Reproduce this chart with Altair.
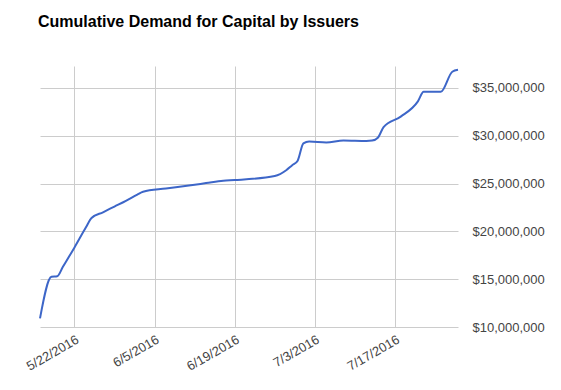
import altair as alt
import pandas as pd

dates = ["2016/05/16", "2016/05/18", "2016/05/19", "2016/05/20", "2016/05/22",
         "2016/05/24", "2016/05/25", "2016/05/27", "2016/05/29", "2016/05/31",
         "2016/06/02", "2016/06/03", "2016/06/07", "2016/06/11", "2016/06/14",
         "2016/06/17", "2016/06/19", "2016/06/26", "2016/06/28", "2016/06/29",
         "2016/06/30", "2016/07/01", "2016/07/02", "2016/07/05", "2016/07/08",
         "2016/07/12", "2016/07/13", "2016/07/14", "2016/07/15", "2016/07/18",
         "2016/07/21", "2016/07/22", "2016/07/25", "2016/07/27", "2016/07/28"]
values = [10.9, 15.25, 15.3, 16.3, 18.3,
          20.4, 21.4, 22.0, 22.6, 23.2,
          23.85, 24.15, 24.48, 24.8, 25.05,
          25.3, 25.37, 25.8, 26.4, 26.9,
          27.4, 29.2, 29.4, 29.3, 29.5,
          29.45, 29.5, 29.8, 30.9, 32.0,
          33.6, 34.6, 34.6, 36.7, 36.9]
tick_dates = [(2016, 5, 22), (2016, 6, 5), (2016, 6, 19), (2016, 7, 3), (2016, 7, 17)]
y_ticks = [10e6, 15e6, 20e6, 25e6, 30e6, 35e6]

df = pd.DataFrame({"date": [d + " 00:00" for d in dates],
                   "value": [v * 1e6 for v in values]})

font = "Liberation Sans"

chart = alt.Chart(df).mark_line(
    color="#3d66c8", strokeWidth=2, interpolate="monotone"
).encode(
    x=alt.X("date:T",
            scale=alt.Scale(domain=[alt.DateTime(year=2016, month=5, date=16),
                                    alt.DateTime(year=2016, month=7, date=28)],
                            nice=False),
            axis=alt.Axis(title=None, format="%-m/%-d/%Y",
                          values=[alt.DateTime(year=y, month=m, date=d) for y, m, d in tick_dates],
                          labelAngle=-30, labelAlign="right", labelBaseline="top",
                          labelPadding=6, ticks=False, domain=False,
                          grid=True, gridColor="#cccccc",
                          labelFont=font, labelFontSize=13, labelColor="#444444")),
    y=alt.Y("value:Q",
            scale=alt.Scale(domain=[10e6, 37.3e6], nice=False, zero=False),
            axis=alt.Axis(title=None, orient="right", format="$,.0f", values=y_ticks,
                          ticks=False, domain=False, labelPadding=14,
                          grid=True, gridColor="#cccccc",
                          labelFont=font, labelFontSize=13, labelColor="#444444")),
).properties(
    width=418, height=261,
    title=alt.TitleParams("Cumulative Demand for Capital by Issuers", anchor="start",
                          frame="group",
                          font=font, fontSize=16, fontWeight="bold", color="#000000",
                          offset=36, dx=-2),
    autosize=alt.AutoSizeParams(type="none"),
    padding={"left": 32, "top": 58, "right": 90, "bottom": 60},
).configure_view(stroke=None)

chart.save("out.html", embed_options={"renderer": "svg", "actions": False})
